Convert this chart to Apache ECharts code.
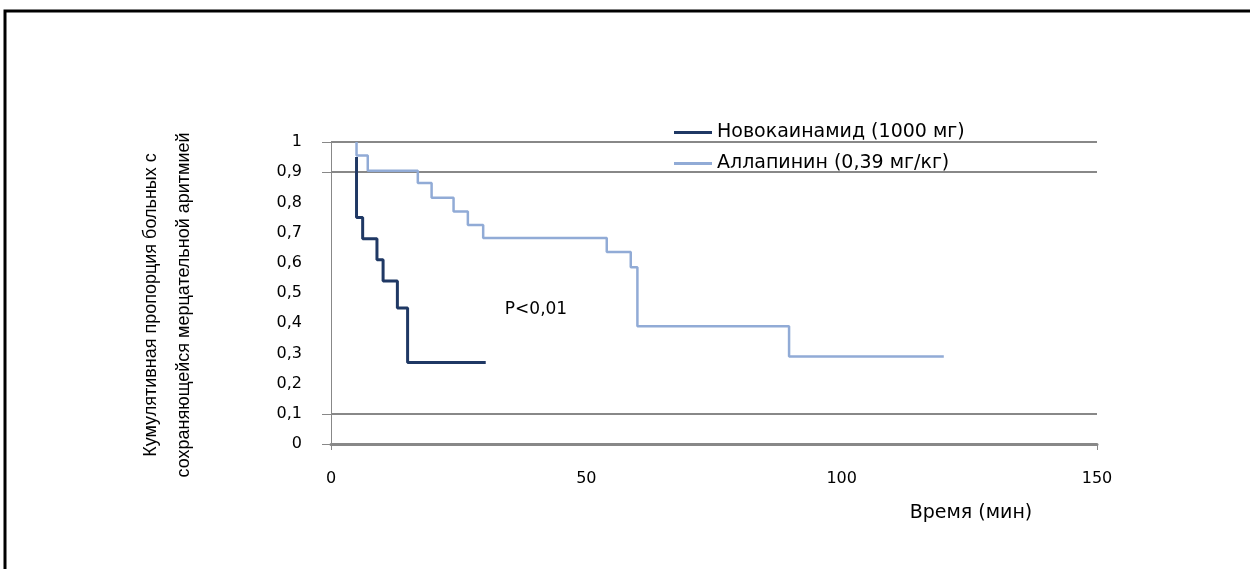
<!DOCTYPE html>
<html>
<head>
<meta charset="utf-8">
<script src="https://cdn.jsdelivr.net/npm/echarts@6/dist/echarts.min.js"></script>
<style>
  html, body { margin: 0; padding: 0; background: #fff; }
  #main { width: 1250px; height: 569px; }
</style>
</head>
<body>
<div id="main"></div>
<script>
// время (мин) и доля больных
var novoTime = [5, 5, 6.2, 9, 10.2, 13, 15, 30.3];
var novoSurv = [0.95, 0.75, 0.68, 0.61, 0.54, 0.45, 0.27, 0.27];

var allaTime = [5, 5, 7.2, 17, 19.7, 24, 26.8, 29.8, 54, 58.7, 60, 89.7, 120];
var allaSurv = [1, 0.955, 0.905, 0.864, 0.815, 0.77, 0.725, 0.682, 0.636, 0.585, 0.39, 0.29, 0.29];

var seriesNames = ['Новокаинамид (1000 мг)', 'Аллапинин (0,39 мг/кг)'];
var seriesColors = ['#1F3864', '#91ABD6'];
var yLabelValues = [0, 0.1, 0.2, 0.3, 0.4, 0.5, 0.6, 0.7, 0.8, 0.9, 1];
var yGridValues = [0, 0.1, 0.9, 1];
var xLabelValues = [0, 50, 100, 150];
var xTickValues = [0, 150];

function pairs(xs, ys) {
    return xs.map(function (x, i) { return [x, ys[i]]; });
}

var chart = echarts.init(document.getElementById('main'));

var tickFont = {color: '#000', fontFamily: 'DejaVu Sans', fontSize: 16};

var option = {
    animation: false,
    backgroundColor: '#fff',
    grid: {left: 331, right: 153, top: 142, bottom: 125},
    legend: {
        orient: 'vertical',
        left: 669,
        top: 118,
        itemWidth: 38,
        itemHeight: 3,
        itemGap: 12,
        textStyle: {color: '#000', fontFamily: 'DejaVu Sans', fontSize: 19},
        data: [
            {name: seriesNames[0], icon: 'rect'},
            {name: seriesNames[1], icon: 'rect'}
        ]
    },
    xAxis: {
        type: 'value',
        min: 0,
        max: 150,
        interval: 50,
        axisLine: {lineStyle: {color: '#888', width: 3}},
        axisTick: {show: true, length: 6, customValues: xTickValues, lineStyle: {color: '#888', width: 1}},
        axisLabel: Object.assign({margin: 27, customValues: xLabelValues}, tickFont),
        splitLine: {show: false}
    },
    yAxis: {
        type: 'value',
        min: 0,
        max: 1,
        interval: 0.1,
        name: 'Кумулятивная пропорция больных с\nсохраняющейся мерцательной аритмией',
        nameLocation: 'middle',
        nameRotate: 90,
        nameGap: 130,
        nameTextStyle: {color: '#000', fontFamily: 'Liberation Sans', fontSize: 18, lineHeight: 33, padding: [0, 24, 0, 0]},
        axisLine: {show: true, lineStyle: {color: '#888', width: 1}},
        axisTick: {show: true, length: 9, customValues: yGridValues, lineStyle: {color: '#888', width: 1}},
        axisLabel: Object.assign({
            margin: 29,
            customValues: yLabelValues,
            formatter: function (v) { return String(Math.round(v * 10) / 10).replace('.', ','); }
        }, tickFont),
        splitLine: {show: true, lineStyle: {color: '#888', width: 2}}
    },
    graphic: [
        {type: 'polyline', shape: {points: [[5, 569], [5, 11], [1250, 11]]}, style: {stroke: '#000', lineWidth: 3, fill: null}},
        {type: 'text', x: 536, y: 310, style: {text: 'P<0,01', fill: '#000', font: '17px "DejaVu Sans"', align: 'center', verticalAlign: 'middle'}},
        {type: 'text', x: 971, y: 513, style: {text: 'Время (мин)', fill: '#000', font: '19px "DejaVu Sans"', align: 'center', verticalAlign: 'middle'}}
    ],
    series: [
        {
            name: seriesNames[0],
            type: 'line',
            step: 'end',
            symbol: 'none',
            z: 2,
            lineStyle: {color: seriesColors[0], width: 3},
            itemStyle: {color: seriesColors[0]},
            data: pairs(novoTime, novoSurv)
        },
        {
            name: seriesNames[1],
            type: 'line',
            step: 'end',
            symbol: 'none',
            z: 3,
            lineStyle: {color: seriesColors[1], width: 2.5},
            itemStyle: {color: seriesColors[1]},
            data: pairs(allaTime, allaSurv)
        }
    ]
};

chart.setOption(option);
window.onresize = chart.resize;
</script>
</body>
</html>
